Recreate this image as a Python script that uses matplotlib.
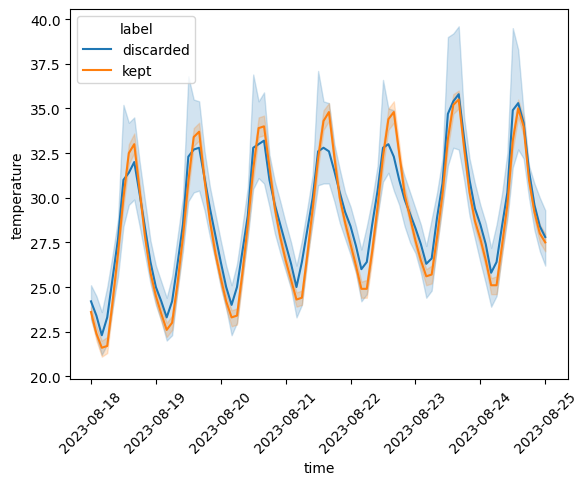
import pandas as pd
import matplotlib.pyplot as plt

# 2-hourly points, 2023-08-18 00:00 .. 2023-08-25 00:00
times = pd.date_range('2023-08-18 00:00', '2023-08-25 00:00', freq='2h')

discarded = [24.2, 23.4, 22.3, 23.3, 25.5, 27.7, 31.0, 31.4, 32.0, 30.2, 28.3, 26.4,
             25.0, 24.2, 23.3, 24.2, 26.3, 28.5, 32.3, 32.7, 32.8, 31.1, 29.4, 27.9,
             26.4, 25.0, 24.0, 25.0, 27.0, 29.0, 32.8, 33.0, 33.2, 31.0, 29.6, 28.5,
             27.4, 26.3, 25.0, 26.4, 28.2, 30.0, 32.6, 32.8, 32.6, 31.5, 30.3, 29.2,
             28.4, 27.3, 26.0, 26.4, 28.5, 30.4, 32.8, 33.0, 32.3, 31.0, 29.9, 29.1,
             28.3, 27.4, 26.3, 26.6, 28.9, 30.8, 34.7, 35.4, 35.8, 33.3, 31.0, 29.4,
             28.5, 27.4, 25.8, 26.4, 28.4, 30.3, 34.9, 35.3, 34.2, 31.5, 29.6, 28.4,
             27.8]
discarded_lo = [23.2, 22.2, 21.2, 21.8, 23.8, 25.6, 28.4, 29.6, 29.9, 28.4, 26.8, 25.2,
                24.0, 23.1, 22.0, 22.3, 24.8, 27.0, 29.8, 30.3, 30.4, 29.3, 27.8, 26.5,
                25.0, 23.8, 22.3, 23.0, 25.5, 27.8, 30.5, 31.1, 30.8, 29.5, 28.0, 26.9,
                25.9, 24.9, 23.3, 24.0, 26.6, 28.6, 30.7, 30.8, 30.8, 29.8, 28.6, 27.7,
                26.8, 25.8, 24.2, 24.6, 26.9, 29.0, 30.9, 31.4, 30.4, 29.6, 28.4, 27.5,
                26.9, 25.8, 24.4, 24.8, 27.3, 29.5, 31.8, 32.8, 32.7, 31.0, 29.0, 27.7,
                26.4, 25.2, 23.9, 24.5, 26.8, 28.8, 31.7, 32.7, 32.2, 30.0, 28.2, 27.0,
                26.2]
discarded_hi = [25.1, 24.5, 23.6, 25.0, 26.8, 28.8, 35.2, 34.2, 34.5, 32.0, 29.8, 27.6,
                26.2, 25.3, 24.4, 25.6, 27.8, 30.0, 36.8, 35.5, 35.4, 32.6, 30.6, 29.1,
                27.6, 26.2, 25.1, 26.3, 28.4, 30.6, 36.9, 35.4, 35.9, 32.4, 30.9, 29.8,
                28.6, 27.5, 26.2, 27.6, 29.4, 31.3, 37.1, 35.4, 35.3, 33.0, 31.6, 30.3,
                29.5, 28.4, 27.1, 28.4, 29.9, 31.8, 36.6, 35.0, 34.9, 32.2, 31.2, 30.3,
                29.4, 28.5, 27.3, 28.8, 30.3, 32.2, 39.0, 39.2, 39.6, 34.5, 32.2, 30.8,
                29.6, 28.6, 27.2, 28.5, 30.2, 32.5, 39.5, 38.3, 34.8, 31.8, 30.8, 30.0,
                29.3]

kept = [23.6, 22.4, 21.6, 21.7, 24.2, 26.9, 30.0, 32.5, 33.0, 30.4, 27.8, 25.8,
        24.5, 23.5, 22.6, 23.0, 25.2, 27.8, 30.9, 33.4, 33.7, 31.0, 28.7, 26.9,
        25.5, 24.2, 23.3, 23.4, 25.8, 28.5, 31.6, 33.9, 34.0, 31.7, 29.4, 27.8,
        26.5, 25.4, 24.3, 24.4, 26.8, 29.4, 32.2, 34.3, 34.8, 32.3, 30.0, 28.6,
        27.4, 26.2, 24.9, 24.9, 27.0, 29.5, 32.3, 34.4, 34.8, 32.5, 30.2, 28.9,
        27.6, 26.5, 25.6, 25.7, 27.8, 30.2, 33.3, 35.2, 35.5, 32.8, 30.3, 28.7,
        27.7, 26.5, 25.1, 25.1, 27.3, 29.6, 33.2, 35.0, 34.0, 31.0, 29.2, 28.0,
        27.5]
kept_lo = [23.3, 22.0, 21.1, 21.3, 23.8, 26.5, 29.5, 31.9, 32.5, 30.0, 27.4, 25.4,
           24.1, 23.1, 22.2, 22.6, 24.8, 27.4, 30.4, 32.9, 33.2, 30.6, 28.3, 26.5,
           25.1, 23.8, 22.8, 22.9, 25.3, 28.0, 31.0, 33.4, 33.5, 31.3, 29.0, 27.4,
           26.1, 25.0, 23.9, 24.0, 26.4, 28.9, 31.7, 33.8, 34.3, 31.9, 29.6, 28.2,
           27.0, 25.8, 24.4, 24.4, 26.5, 29.0, 31.7, 33.8, 34.2, 32.0, 29.8, 28.5,
           27.2, 26.1, 25.1, 25.2, 27.3, 29.7, 32.8, 34.7, 35.0, 32.3, 29.9, 28.3,
           27.3, 26.1, 24.6, 24.6, 26.8, 29.1, 32.7, 34.5, 33.5, 30.6, 28.8, 27.5,
           27.0]
kept_hi = [23.9, 22.8, 22.0, 22.2, 24.6, 27.3, 30.5, 33.0, 33.6, 30.8, 28.2, 26.2,
           24.9, 23.9, 23.0, 23.4, 25.6, 28.2, 31.4, 33.9, 34.2, 31.4, 29.1, 27.3,
           25.9, 24.6, 23.7, 23.8, 26.2, 29.0, 32.2, 34.5, 34.6, 32.1, 29.8, 28.2,
           26.9, 25.8, 24.7, 24.8, 27.2, 29.9, 32.8, 34.9, 35.3, 32.7, 30.4, 29.0,
           27.8, 26.6, 25.3, 25.4, 27.5, 30.0, 32.9, 35.0, 35.4, 33.0, 30.6, 29.3,
           28.0, 26.9, 26.0, 26.2, 28.3, 30.7, 33.8, 35.8, 36.0, 33.3, 30.7, 29.1,
           28.1, 26.9, 25.5, 25.6, 27.8, 30.1, 33.7, 35.5, 34.5, 31.4, 29.6, 28.5,
           28.0]

fig, ax = plt.subplots(figsize=(5.87, 4.85), dpi=100)
fig.subplots_adjust(left=0.12, right=0.968, top=0.979, bottom=0.2165)

ax.fill_between(times, discarded_lo, discarded_hi, color='#1f77b4', alpha=0.2)
ax.plot(times, discarded, color='#1f77b4', label='discarded')
ax.fill_between(times, kept_lo, kept_hi, color='#ff7f0e', alpha=0.2)
ax.plot(times, kept, color='#ff7f0e', label='kept')

ax.set_xlim(pd.Timestamp('2023-08-18') - pd.Timedelta(hours=7.6),
            pd.Timestamp('2023-08-25') + pd.Timedelta(hours=8.5))
ax.set_ylim(19.85, 40.56)
ax.set_xlabel('time')
ax.set_ylabel('temperature')
plt.xticks(rotation=45)
ax.legend(title='label', loc='upper left')

plt.savefig('out.png', dpi=100)
